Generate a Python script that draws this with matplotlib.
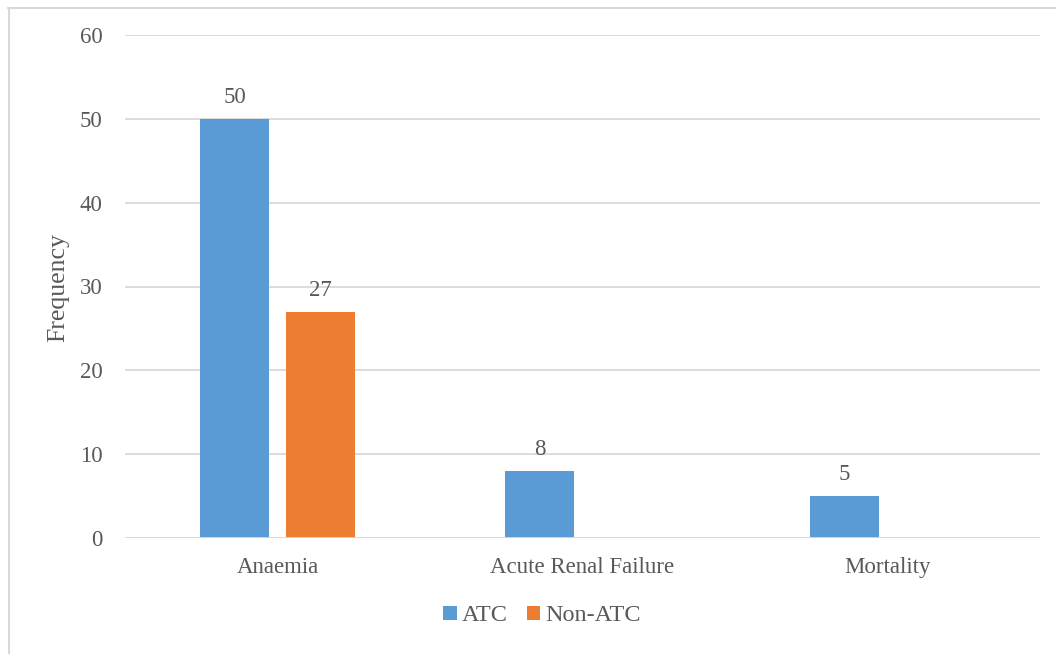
import numpy as np
import matplotlib.pyplot as plt
from matplotlib.lines import Line2D

# data
categories = ["Anaemia", "Acute Renal Failure", "Mortality"]
atc = [50, 8, 5]
non_atc = [27, np.nan, np.nan]  # no bars shown for the last two
y_ticks = [0, 10, 20, 30, 40, 50, 60]

blue = "#5B9BD5"
orange = "#ED7D31"
grey_text = "#595959"
grid_col = "#D9D9D9"

plt.rcParams["font.family"] = ["Liberation Serif", "DejaVu Serif"]
plt.rcParams["font.size"] = 16.5

fig = plt.figure(figsize=(10.56, 6.54), dpi=100)
W, H = 1056, 654
# plot area in pixels: x 125..1040, y 35..538
ax = fig.add_axes([125 / W, 1 - 538 / H, (1040 - 125) / W, (538 - 35) / H])

x = np.arange(len(categories))
bw = 0.223
off = 0.141
b1 = ax.bar(x - off, atc, bw, color=blue, label="ATC", zorder=3)
b2 = ax.bar(x + off, non_atc, bw, color=orange, label="Non-ATC", zorder=3)

for bars, vals in ((b1, atc), (b2, non_atc)):
    for rect, v in zip(bars, vals):
        if np.isnan(v):
            continue
        ax.annotate(f"{v:g}", (rect.get_x() + rect.get_width() / 2, v),
                    xytext=(0, 8), textcoords="offset points",
                    ha="center", va="bottom", color=grey_text)

ax.set_xlim(-0.5, 2.5)
ax.set_ylim(0, 60)
ax.set_yticks(y_ticks)
ax.set_xticks(x)
ax.set_xticklabels(categories)
ax.tick_params(axis="both", length=0, colors=grey_text)
ax.tick_params(axis="y", pad=16)
ax.tick_params(axis="x", pad=14)
ax.grid(axis="y", color=grid_col, linewidth=1.3, zorder=0)
for s in ax.spines.values():
    s.set_visible(False)
ax.axhline(0, color=grid_col, linewidth=1.3, zorder=4)

ax.set_ylabel("Frequency", color=grey_text, fontsize=18.5)
ax.yaxis.set_label_coords((69 - 125) / (1040 - 125), (538 - 288) / (538 - 35))

ax.legend(loc="center", bbox_to_anchor=((542 - 125) / (1040 - 125), -0.155),
          ncol=2, frameon=False, fontsize=17.5,
          handlelength=0.55, handleheight=0.55, handletextpad=0.2,
          columnspacing=0.8, labelcolor=grey_text)

# chart frame (top and left edges only visible)
fig.add_artist(Line2D([8 / W, 1], [1 - 7.5 / H, 1 - 7.5 / H], color=grid_col, lw=1.5))
fig.add_artist(Line2D([8.5 / W, 8.5 / W], [0, 1 - 7.5 / H], color=grid_col, lw=1.5))

fig.savefig("out.png", dpi=100)
